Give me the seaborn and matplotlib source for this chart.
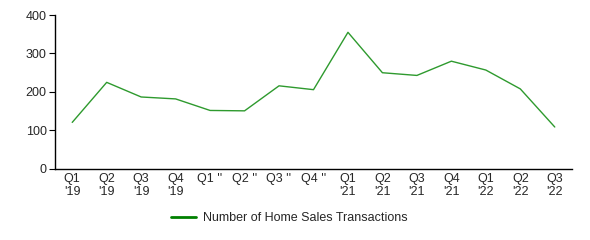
import matplotlib
matplotlib.use("Agg")
import matplotlib.pyplot as plt
import seaborn as sns
import pandas as pd

quarters = ["Q1\n'19", "Q2\n'19", "Q3\n'19", "Q4\n'19",
            "Q1 ''", "Q2 ''", "Q3 ''", "Q4 ''",
            "Q1\n'21", "Q2\n'21", "Q3\n'21", "Q4\n'21",
            "Q1\n'22", "Q2\n'22", "Q3\n'22"]
transactions = [121, 225, 187, 182, 152, 151, 216, 206, 355, 250, 243, 280, 257, 208, 109]
series_name = "Number of Home Sales Transactions"

sns.set_style("white")
plt.rcParams['font.family'] = ['Liberation Sans', 'DejaVu Sans']

df = pd.DataFrame({"pos": range(len(quarters)), "value": transactions, "series": series_name})

fig = plt.figure(figsize=(5.9, 2.4), dpi=100)
ax = fig.add_axes([0.0932, 0.296, 0.8763, 0.6415])
sns.lineplot(data=df, x="pos", y="value", hue="series", palette=["#2e9a2e"],
             linewidth=1.0, ax=ax, legend=False)

fs = 9
ax.set_xlim(-0.5, len(quarters) - 0.5)
ax.set_ylim(0, 400)
ax.set_yticks([0, 100, 200, 300, 400])
ax.set_xticks(range(len(quarters)))
ax.set_xticklabels(quarters, fontsize=fs, linespacing=1.15, va="top")
ax.tick_params(axis="y", labelsize=fs, length=4, width=0.8, color="black", pad=2, left=True)
ax.tick_params(axis="x", length=0, pad=3)
ax.set_xlabel("")
ax.set_ylabel("")
for s in ["top", "right"]:
    ax.spines[s].set_visible(False)
for s in ["left", "bottom"]:
    ax.spines[s].set_color("black")
    ax.spines[s].set_linewidth(1.0)

from matplotlib.lines import Line2D
handle = Line2D([], [], color="#008000", linewidth=2)
fig.legend([handle], [series_name], loc="center", bbox_to_anchor=(0.49, 0.092),
           frameon=False, fontsize=fs, handlelength=2.0, handletextpad=0.6)

fig.savefig("out.png", dpi=100)
